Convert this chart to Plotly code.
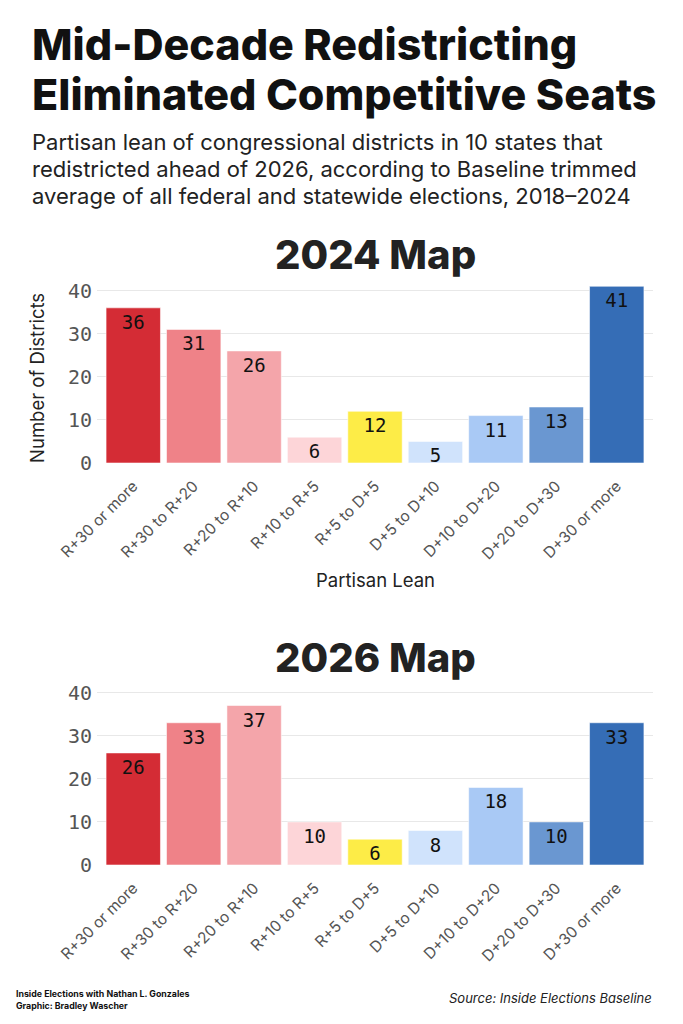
import plotly.graph_objects as go

W, H = 683, 1024
OFF = 8  # page body margin

categories = ["R+30 or more", "R+30 to R+20", "R+20 to R+10", "R+10 to R+5", "R+5 to D+5",
              "D+5 to D+10", "D+10 to D+20", "D+20 to D+30", "D+30 or more"]
map_2024 = [36, 31, 26, 6, 12, 5, 11, 13, 41]
map_2026 = [26, 33, 37, 10, 6, 8, 18, 10, 33]
bar_colors = ["#d42c35", "#ef8288", "#f4a5aa", "#fdd5d8", "#fdec47",
              "#d0e3fc", "#a9c9f5", "#6a97d1", "#356db6"]
y_ticks = [0, 10, 20, 30, 40]

SANS = "Inter, Lato, sans-serif"
MONO = "DejaVu Sans Mono, monospace"


def py(px):
    # pixel row on the page -> paper y
    return 1 - (px - OFF) / H


def px_x(px):
    return (px - OFF) / W


fig = go.Figure()

for i, vals in enumerate([map_2024, map_2026]):
    fig.add_trace(go.Bar(
        x=categories, y=vals,
        xaxis="x" if i == 0 else "x2", yaxis="y" if i == 0 else "y2",
        marker=dict(color=bar_colors, line=dict(color="rgba(255,255,255,0.55)", width=1)),
        text=[str(v) for v in vals],
        textposition="inside", insidetextanchor="end", textangle=0,
        constraintext="none",
        textfont=dict(family=MONO, size=19, color="#111111"),
        cliponaxis=False,
        showlegend=False, hoverinfo="x+y",
    ))

x_dom = [px_x(97), px_x(653)]
axis_common = dict(
    gridcolor="#e8e8e8", gridwidth=1, zeroline=False, showline=False,
    tickvals=y_ticks, range=[0, 41.5], automargin=False,
    tickfont=dict(family=MONO, size=20, color="#555555"),
    ticks="", ticklabelstandoff=4,
)
x_common = dict(
    domain=x_dom, range=[-0.6, 8.6], tickangle=-45, showgrid=False, showline=False,
    automargin=False, ticklabelstandoff=10,
    tickfont=dict(family=SANS, size=15.5, color="#555555"), ticks="",
)

fig.update_layout(
    width=W, height=H,
    margin=dict(l=0, r=0, t=0, b=0),
    paper_bgcolor="white", plot_bgcolor="white",
    bargap=0.1,
    xaxis=dict(**x_common, anchor="y"),
    yaxis=dict(**axis_common, domain=[py(463), py(463 - 41.5 * 4.31)], anchor="x"),
    xaxis2=dict(**x_common, anchor="y2"),
    yaxis2=dict(**axis_common, domain=[py(865), py(865 - 41.5 * 4.31)], anchor="x2"),
)

notes = [
    ("Mid-Decade Redistricting", 30, 44, 43, 800, "left", "#111111", "normal"),
    ("Eliminated Competitive Seats", 30, 94, 43, 800, "left", "#111111", "normal"),
    ("Partisan lean of congressional districts in 10 states that", 30, 142, 22, 400, "left", "#222222", "normal"),
    ("redistricted ahead of 2026, according to Baseline trimmed", 30, 169, 22, 400, "left", "#222222", "normal"),
    ("average of all federal and statewide elections, 2018–2024", 30, 196, 22, 400, "left", "#222222", "normal"),
    ("2024 Map", 375, 254, 40, 800, "center", "#222222", "normal"),
    ("2026 Map", 375, 657, 40, 800, "center", "#222222", "normal"),
    ("Partisan Lean", 375, 580, 18.5, 400, "center", "#222222", "normal"),
    ("Inside Elections with Nathan L. Gonzales", 14, 993, 8.8, 700, "left", "#111111", "normal"),
    ("Graphic: Bradley Wascher", 14, 1005, 8.8, 700, "left", "#111111", "normal"),
    ("Source: Inside Elections Baseline", 654, 998, 13, 400, "right", "#222222", "italic"),
]
for text, x, y, size, weight, anchor, color, style in notes:
    fig.add_annotation(
        text=text, xref="paper", yref="paper", x=px_x(x), y=py(y),
        xanchor=anchor, yanchor="middle", showarrow=False,
        font=dict(family=SANS, size=size, color=color, weight=weight, style=style),
    )

fig.add_annotation(
    text="Number of Districts", xref="paper", yref="paper", x=px_x(37), y=py(378),
    xanchor="center", yanchor="middle", showarrow=False, textangle=-90,
    font=dict(family=SANS, size=18.5, color="#222222"),
)

fig.write_html("out.html")
